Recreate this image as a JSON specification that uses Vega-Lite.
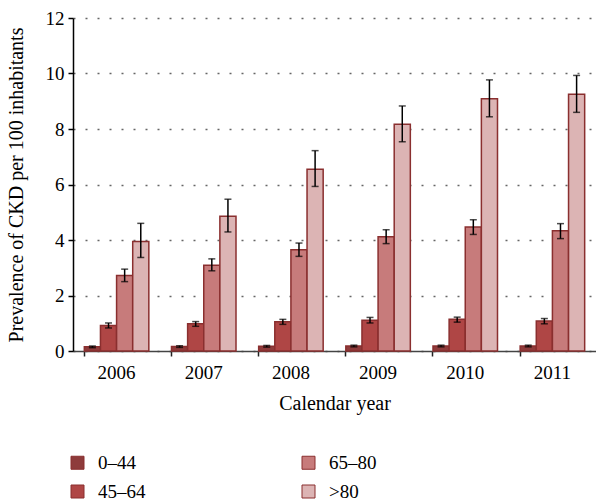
{
  "$schema": "https://vega.github.io/schema/vega-lite/v6.json",
  "width": 523,
  "height": 333,
  "autosize": {"type": "none"},
  "padding": {"left": 73, "top": 18, "right": 0, "bottom": 149},
  "background": "white",
  "config": {
    "view": {"stroke": null},
    "font": "Liberation Serif",
    "axis": {"labelFont": "Liberation Serif", "titleFont": "Liberation Serif", "labelFontSize": 19, "titleFontSize": 20, "labelColor": "black", "titleColor": "black", "titleFontWeight": "normal"},
    "legend": {"labelFont": "Liberation Serif", "labelFontSize": 19, "labelColor": "black"}
  },
  "data": {
    "values": [
      {"year": "2006", "age": "0–44", "value": 0.15, "lower": 0.12, "upper": 0.18},
      {"year": "2006", "age": "45–64", "value": 0.92, "lower": 0.83, "upper": 1.01},
      {"year": "2006", "age": "65–80", "value": 2.72, "lower": 2.5, "upper": 2.95},
      {"year": "2006", "age": ">80", "value": 3.95, "lower": 3.37, "upper": 4.6},
      {"year": "2007", "age": "0–44", "value": 0.16, "lower": 0.13, "upper": 0.19},
      {"year": "2007", "age": "45–64", "value": 0.98, "lower": 0.89, "upper": 1.06},
      {"year": "2007", "age": "65–80", "value": 3.09, "lower": 2.89, "upper": 3.32},
      {"year": "2007", "age": ">80", "value": 4.86, "lower": 4.29, "upper": 5.47},
      {"year": "2008", "age": "0–44", "value": 0.17, "lower": 0.14, "upper": 0.2},
      {"year": "2008", "age": "45–64", "value": 1.05, "lower": 0.96, "upper": 1.14},
      {"year": "2008", "age": "65–80", "value": 3.65, "lower": 3.41, "upper": 3.89},
      {"year": "2008", "age": ">80", "value": 6.55, "lower": 5.93, "upper": 7.22},
      {"year": "2009", "age": "0–44", "value": 0.18, "lower": 0.15, "upper": 0.21},
      {"year": "2009", "age": "45–64", "value": 1.11, "lower": 1.01, "upper": 1.21},
      {"year": "2009", "age": "65–80", "value": 4.12, "lower": 3.87, "upper": 4.37},
      {"year": "2009", "age": ">80", "value": 8.17, "lower": 7.54, "upper": 8.83},
      {"year": "2010", "age": "0–44", "value": 0.18, "lower": 0.15, "upper": 0.21},
      {"year": "2010", "age": "45–64", "value": 1.14, "lower": 1.04, "upper": 1.22},
      {"year": "2010", "age": "65–80", "value": 4.47, "lower": 4.2, "upper": 4.73},
      {"year": "2010", "age": ">80", "value": 9.09, "lower": 8.44, "upper": 9.77},
      {"year": "2011", "age": "0–44", "value": 0.18, "lower": 0.15, "upper": 0.21},
      {"year": "2011", "age": "45–64", "value": 1.08, "lower": 0.98, "upper": 1.17},
      {"year": "2011", "age": "65–80", "value": 4.33, "lower": 4.05, "upper": 4.59},
      {"year": "2011", "age": ">80", "value": 9.25, "lower": 8.6, "upper": 9.93}
    ]
  },
  "encoding": {
    "x": {
      "field": "year", "type": "nominal",
      "scale": {"paddingInner": 0.26, "paddingOuter": 0.13},
      "axis": {"title": "Calendar year", "labelAngle": 0, "bandPosition": 0, "domainColor": "#444", "domainWidth": 1.5, "tickColor": "#222", "tickWidth": 1.5, "tickSize": 5, "labelPadding": 7, "titlePadding": 11, "grid": false}
    },
    "xOffset": {"field": "age", "type": "nominal", "sort": ["0–44", "45–64", "65–80", ">80"], "scale": {"paddingInner": 0, "paddingOuter": 0}}
  },
  "layer": [
    {
      "mark": {"type": "bar", "stroke": "#8a2f2f", "strokeWidth": 1.5},
      "encoding": {
        "y": {
          "field": "value", "type": "quantitative",
          "scale": {"domain": [0, 12], "nice": false},
          "axis": {"title": "Prevalence of CKD per 100 inhabitants", "values": [0, 2, 4, 6, 8, 10, 12], "domainColor": "black", "domainWidth": 1.5, "tickColor": "black", "tickWidth": 1.5, "tickSize": 5, "labelPadding": 4, "titlePadding": 19, "grid": true, "gridColor": "#666", "gridDash": [2, 10], "gridWidth": 1.5}
        },
        "color": {
          "field": "age", "type": "nominal",
          "scale": {"domain": ["0–44", "65–80", "45–64", ">80"], "range": ["#8e3b3b", "#c77b7b", "#af4645", "#dcb4b4"]},
          "legend": {"title": null, "orient": "none", "legendX": -5, "legendY": 435, "direction": "horizontal", "columns": 2, "symbolType": "square", "symbolSize": 169, "symbolStrokeColor": "#8a2f2f", "symbolStrokeWidth": 1, "labelOffset": 11, "columnPadding": 153, "rowPadding": 9}
        }
      }
    },
    {
      "mark": {"type": "rule", "color": "black", "strokeWidth": 1.5},
      "encoding": {
        "y": {"field": "lower", "type": "quantitative"},
        "y2": {"field": "upper"}
      }
    },
    {
      "mark": {"type": "tick", "color": "black", "thickness": 1.5, "size": 7},
      "encoding": {"y": {"field": "lower", "type": "quantitative"}}
    },
    {
      "mark": {"type": "tick", "color": "black", "thickness": 1.5, "size": 7},
      "encoding": {"y": {"field": "upper", "type": "quantitative"}}
    }
  ]
}
